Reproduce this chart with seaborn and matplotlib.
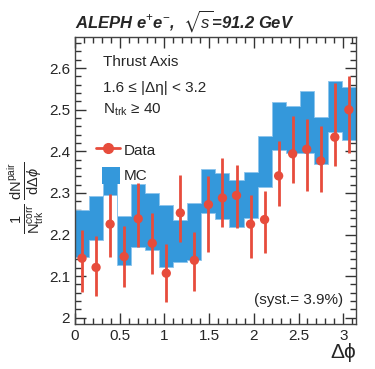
import numpy as np
import pandas as pd
import matplotlib
matplotlib.use('Agg')
import matplotlib.pyplot as plt
import seaborn as sns
from matplotlib.lines import Line2D
from matplotlib.patches import Patch, Rectangle
from matplotlib.legend_handler import HandlerPatch
from matplotlib.ticker import MultipleLocator

# delta phi binning: 20 bins from 0 to pi
n_bins = 20
edges = np.linspace(0, np.pi, n_bins + 1)
centers = 0.5 * (edges[:-1] + edges[1:])

# data points (value, lower / upper end of error bar)
data_y = [2.143, 2.121, 2.225, 2.147, 2.238, 2.179, 2.107, 2.252, 2.138, 2.272,
          2.288, 2.294, 2.225, 2.236, 2.341, 2.394, 2.405, 2.377, 2.434, 2.500]
data_lo = [2.063, 2.053, 2.147, 2.074, 2.170, 2.105, 2.037, 2.183, 2.065, 2.157,
           2.218, 2.216, 2.143, 2.155, 2.269, 2.324, 2.304, 2.303, 2.365, 2.397]
data_hi = [2.212, 2.197, 2.298, 2.221, 2.324, 2.252, 2.178, 2.344, 2.207, 2.341,
           2.384, 2.368, 2.296, 2.305, 2.424, 2.486, 2.478, 2.462, 2.564, 2.580]

# MC band (lower / upper edge per bin)
mc_lo = [2.146, 2.188, 2.296, 2.127, 2.170, 2.163, 2.123, 2.135, 2.139, 2.252,
         2.238, 2.218, 2.240, 2.314, 2.402, 2.397, 2.396, 2.370, 2.447, 2.427]
mc_hi = [2.260, 2.293, 2.360, 2.245, 2.322, 2.301, 2.270, 2.235, 2.276, 2.358,
         2.348, 2.330, 2.350, 2.438, 2.518, 2.510, 2.546, 2.482, 2.568, 2.555]

df = pd.DataFrame({'dphi': centers, 'y': data_y, 'lo': data_lo, 'hi': data_hi})

sns.set_style('ticks')
plt.rcParams['font.family'] = ['Liberation Sans', 'DejaVu Sans']
plt.rcParams['mathtext.fontset'] = 'custom'
plt.rcParams['mathtext.rm'] = 'Liberation Sans'
plt.rcParams['mathtext.it'] = 'Liberation Sans:italic'
plt.rcParams['mathtext.bf'] = 'Liberation Sans:bold'
plt.rcParams['mathtext.fallback'] = 'stixsans'

red = '#e74c3c'
blue = '#3498db'

fig = plt.figure(figsize=(3.75, 3.69), dpi=100)
ax = fig.add_axes([0.2, 0.122, 0.749, 0.778])

# MC band
ax.fill_between(edges, list(mc_lo) + [mc_lo[-1]], list(mc_hi) + [mc_hi[-1]],
                step='post', color=blue, lw=0.6, edgecolor='#8cc4ec', zorder=1)

# data
yerr = [df['y'] - df['lo'], df['hi'] - df['y']]
ax.errorbar(df['dphi'], df['y'], yerr=yerr, fmt='none', ecolor=red, elinewidth=2.0,
            capsize=0, zorder=2)
sns.scatterplot(data=df, x='dphi', y='y', ax=ax, color=red, s=45, edgecolor='none',
                zorder=3, legend=False)

ax.set_xlim(0, np.pi)
ax.set_ylim(1.985, 2.675)
ax.xaxis.set_minor_locator(MultipleLocator(0.1))
ax.yaxis.set_minor_locator(MultipleLocator(0.02))
ax.set_xticks([0, 0.5, 1, 1.5, 2, 2.5, 3])
ax.set_xticklabels(['0', '0.5', '1', '1.5', '2', '2.5', '3'])
ax.set_yticks([2.0, 2.1, 2.2, 2.3, 2.4, 2.5, 2.6])
ax.set_yticklabels(['2', '2.1', '2.2', '2.3', '2.4', '2.5', '2.6'])
ax.tick_params(which='both', direction='in', top=True, right=True, labelsize=11,
               color='#333333', width=1.0)
ax.tick_params(which='major', length=8)
ax.tick_params(which='minor', length=4)
for s in ax.spines.values():
    s.set_color('#444444')
    s.set_linewidth(1.0)

ax.set_xlabel('Δϕ', fontsize=15, loc='right', labelpad=0)
ax.set_ylabel(r'$\frac{1}{\mathrm{N}^{\mathrm{corr}}_{\mathrm{trk}}}\,'
              r'\frac{\mathrm{dN}^{\mathrm{pair}}}{\mathrm{d}\Delta\phi}$', fontsize=15)
ax.yaxis.set_label_coords(-0.105, 0.44)

ax.set_title(r'ALEPH e$^{+}$e$^{-}$,  $\sqrt{s}$=91.2 GeV', loc='left',
             fontsize=12, fontweight='bold', fontstyle='italic', pad=7)

ax.text(0.10, 0.913, 'Thrust Axis', transform=ax.transAxes, fontsize=11, va='center')
ax.text(0.10, 0.822, '1.6 ≤ |Δη| < 3.2', transform=ax.transAxes, fontsize=11, va='center')
ax.text(0.10, 0.746, r'N$_{\mathrm{trk}}$ ≥ 40', transform=ax.transAxes, fontsize=11,
        va='center')
ax.text(0.954, 0.084, '(syst.= 3.9%)', transform=ax.transAxes, fontsize=11,
        va='center', ha='right')


def narrow_patch(legend, orig_handle, xdescent, ydescent, width, height, fontsize):
    return Rectangle((-xdescent + 0.25 * width, -ydescent), 0.75 * width, height)


handles = [Line2D([], [], color=red, lw=2.0, marker='o', markersize=7),
           Patch(facecolor=blue, edgecolor='none')]
ax.legend(handles, ['Data', 'MC'], loc='upper left', bbox_to_anchor=(0.025, 0.685),
          frameon=False, fontsize=11, handlelength=1.6, handleheight=1.3,
          handletextpad=0.25, labelspacing=0.6,
          handler_map={Patch: HandlerPatch(patch_func=narrow_patch)})

fig.savefig('out.png', dpi=100)
